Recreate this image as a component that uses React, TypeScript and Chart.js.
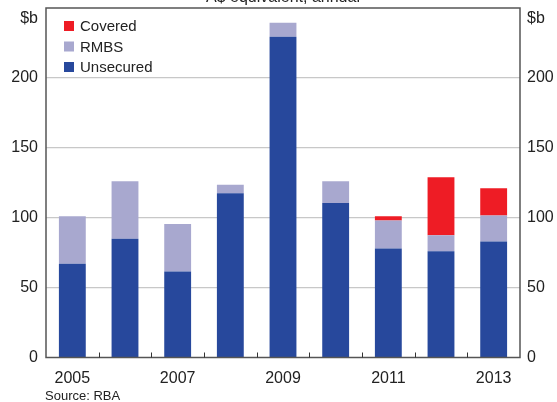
import React, { useEffect, useRef } from "react";
import { Chart, registerables } from "chart.js";

Chart.register(...registerables);

const years = ["2005", "2006", "2007", "2008", "2009", "2010", "2011", "2012", "2013"];
const unsecured = [67, 85, 61.5, 117.5, 229.5, 110.5, 78, 76, 83];
const rmbs = [34, 41, 34, 6, 10, 15.5, 20, 11.5, 18.5];
const covered = [0, 0, 0, 0, 0, 0, 3, 41.5, 19.5];
const yTicks = [0, 50, 100, 150, 200, 250];
const titleText = "A$ equivalent, annual";
const sourceText = "Source: RBA";
const unitText = "$b";

const FONT = "'Liberation Sans', Arial, sans-serif";

const framePlugin = {
  id: "frame",
  afterDraw(chart: any) {
    const { ctx, chartArea } = chart;
    const { left, right, top, bottom } = chartArea;
    const xs = chart.scales.x;
    const ys = chart.scales.y;
    ctx.save();
    ctx.strokeStyle = "#555555";
    ctx.lineWidth = 1.5;
    ctx.strokeRect(left, top, right - left, bottom - top);
    ctx.strokeStyle = "#333333";
    ctx.lineWidth = 1;
    for (let i = 1; i < years.length; i++) {
      const x = Math.round((xs.getPixelForValue(i - 1) + xs.getPixelForValue(i)) / 2) + 0.5;
      ctx.beginPath();
      ctx.moveTo(x, bottom);
      ctx.lineTo(x, bottom - 5);
      ctx.stroke();
    }
    ctx.fillStyle = "#222222";
    ctx.font = `16px ${FONT}`;
    ctx.textAlign = "center";
    ctx.textBaseline = "alphabetic";
    ctx.fillText(titleText, 283, 1.5);
    // unit labels
    const uy = ys.getPixelForValue(yTicks[yTicks.length - 1]) + 10.5;
    ctx.textBaseline = "middle";
    ctx.textAlign = "right";
    ctx.fillText(unitText, left - 8, uy);
    ctx.textAlign = "left";
    ctx.fillText(unitText, right + 7, uy);
    // source
    ctx.font = `13px ${FONT}`;
    ctx.textAlign = "left";
    ctx.fillText(sourceText, left - 1, 396);
    // legend
    const ds = chart.data.datasets.slice().reverse();
    ctx.font = `15px ${FONT}`;
    ds.forEach((d: any, i: number) => {
      const y = 26 + i * 20.5;
      ctx.fillStyle = d.backgroundColor;
      ctx.fillRect(64, y - 5, 10, 10);
      ctx.fillStyle = "#222222";
      ctx.textBaseline = "middle";
      ctx.fillText(d.label, 80, y + 1);
    });
    ctx.restore();
  },
};

export default function App() {
  const ref = useRef<HTMLCanvasElement>(null);
  useEffect(() => {
    if (!ref.current) return;
    const tickFont = { family: FONT, size: 16 };
    const yTickCb = (v: any) => (v === 250 ? "" : String(v));
    const gridColor = (c: any) =>
      c.tick && (c.tick.value === 0 || c.tick.value === 250) ? "rgba(0,0,0,0)" : "#c8c8c8";
    const fixY = (w: number) => (s: any) => {
      s.width = w;
      s.paddingTop = 0;
      s.paddingBottom = 0;
    };
    const chart = new Chart(ref.current, {
      type: "bar",
      data: {
        labels: years,
        datasets: [
          { label: "Unsecured", data: unsecured, backgroundColor: "#27489c" },
          { label: "RMBS", data: rmbs, backgroundColor: "#a8a8cf" },
          { label: "Covered", data: covered, backgroundColor: "#ee1c25" },
        ],
      },
      options: {
        animation: false,
        responsive: false,
        maintainAspectRatio: false,
        layout: { padding: { top: 8, left: 0, right: 0, bottom: 0 } },
        plugins: { legend: { display: false }, tooltip: { enabled: false }, title: { display: false } },
        datasets: { bar: { barPercentage: 0.51, categoryPercentage: 1, borderWidth: 0 } },
        scales: {
          x: {
            stacked: true,
            grid: { display: false, drawTicks: false },
            border: { display: false },
            ticks: {
              autoSkip: false,
              maxRotation: 0,
              padding: 11,
              color: "#222222",
              font: tickFont,
              callback: (_v: any, i: number) => (i % 2 === 0 ? years[i] : ""),
            },
            afterFit: (s: any) => {
              s.height = 44.5;
              s.paddingLeft = 0;
              s.paddingRight = 0;
            },
          },
          y: {
            stacked: true,
            position: "left",
            min: 0,
            max: 250,
            afterBuildTicks: (s: any) => {
              s.ticks = yTicks.map((v) => ({ value: v }));
            },
            grid: { color: gridColor, drawTicks: false, lineWidth: 1.2 },
            border: { display: false },
            ticks: { padding: 8, color: "#222222", font: tickFont, callback: yTickCb },
            afterFit: fixY(46),
          },
          y2: {
            stacked: true,
            position: "right",
            min: 0,
            max: 250,
            afterBuildTicks: (s: any) => {
              s.ticks = yTicks.map((v) => ({ value: v }));
            },
            grid: { display: false, drawTicks: false },
            border: { display: false },
            ticks: { padding: 7, color: "#222222", font: tickFont, callback: yTickCb },
            afterFit: fixY(37),
          },
        },
      },
      plugins: [framePlugin],
    });
    return () => chart.destroy();
  }, []);
  return (
    <div style={{ position: "fixed", left: 0, top: 0, width: 557, height: 402, background: "#fff" }}>
      <canvas ref={ref} width={557} height={402} style={{ width: 557, height: 402, display: "block" }} />
    </div>
  );
}
